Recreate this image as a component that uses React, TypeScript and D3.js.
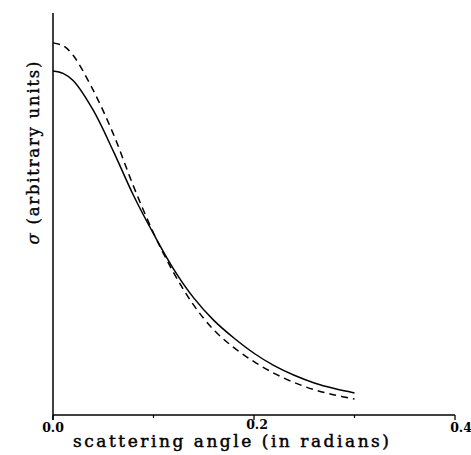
import React from "react";
import * as d3 from "d3";

const angles = [0, 0.01, 0.02, 0.04, 0.06, 0.08, 0.1, 0.12, 0.14, 0.16, 0.18, 0.2, 0.22, 0.24, 0.26, 0.28, 0.3];
const solidValues = [0.858, 0.852, 0.834, 0.76, 0.658, 0.548, 0.452, 0.364, 0.292, 0.236, 0.192, 0.154, 0.123, 0.099, 0.08, 0.066, 0.055];
const dashedValues = [0.928, 0.921, 0.897, 0.81, 0.701, 0.571, 0.454, 0.355, 0.274, 0.212, 0.168, 0.133, 0.104, 0.081, 0.063, 0.05, 0.04];
const majorTicks = [0, 0.2, 0.4];
const minorTicks = [0.1, 0.3];
const xLabel = "scattering angle (in radians)";
const yLabel = "(arbitrary units)";

export default function App() {
  const W = 471, H = 455;
  const x = d3.scaleLinear().domain([0, 0.4]).range([53, 455]);
  const y = d3.scaleLinear().domain([0, 1]).range([415, 14]);
  const line = d3.line<[number, number]>().x(d => x(d[0])).y(d => y(d[1])).curve(d3.curveCatmullRom.alpha(0.5));
  const solid = line(angles.map((a, i) => [a, solidValues[i]]) as [number, number][]) || "";
  const dashed = line(angles.map((a, i) => [a, dashedValues[i]]) as [number, number][]) || "";
  const font = "'DejaVu Serif', serif";
  return (
    <svg width={W} height={H} style={{ position: "absolute", left: 0, top: 0, background: "#fff" }}>
      <rect width={W} height={H} fill="#fff" />
      <line x1={x(0)} x2={x(0)} y1={13} y2={420} stroke="#000" strokeWidth={1.5} />
      <line x1={x(0)} x2={x(0.4)} y1={y(0)} y2={y(0)} stroke="#000" strokeWidth={1.5} />
      {majorTicks.map(t => (
        <g key={t}>
          <line x1={x(t)} x2={x(t)} y1={y(0)} y2={y(0) + 5} stroke="#000" strokeWidth={1.3} />
          <text x={x(t) + (t === 0.4 ? 6 : t === 0.2 ? 3 : 0)} y={y(0) + (t === 0.2 ? 14 : 17)} fontFamily={font} fontWeight="bold" fontSize={12.5} textAnchor="middle">{t.toFixed(1)}</text>
        </g>
      ))}
      {minorTicks.map(t => (
        <line key={t} x1={x(t)} x2={x(t)} y1={y(0)} y2={y(0) + 3} stroke="#000" strokeWidth={1.2} />
      ))}
      <path d={solid} fill="none" stroke="#000" strokeWidth={1.5} />
      <path d={dashed} fill="none" stroke="#000" strokeWidth={1.5} strokeDasharray="7,5" />
      <text x={231} y={447} fontFamily={font} fontSize={17} stroke="#000" strokeWidth={0.45} textAnchor="middle" textLength={316} lengthAdjust="spacing">{xLabel}</text>
      <text transform="translate(39,153) rotate(-90)" fontFamily={font} fontSize={16.5} stroke="#000" strokeWidth={0.35} textAnchor="middle" textLength={183} lengthAdjust="spacing">
        <tspan fontStyle="italic">σ</tspan>{" " + yLabel}
      </text>
    </svg>
  );
}
